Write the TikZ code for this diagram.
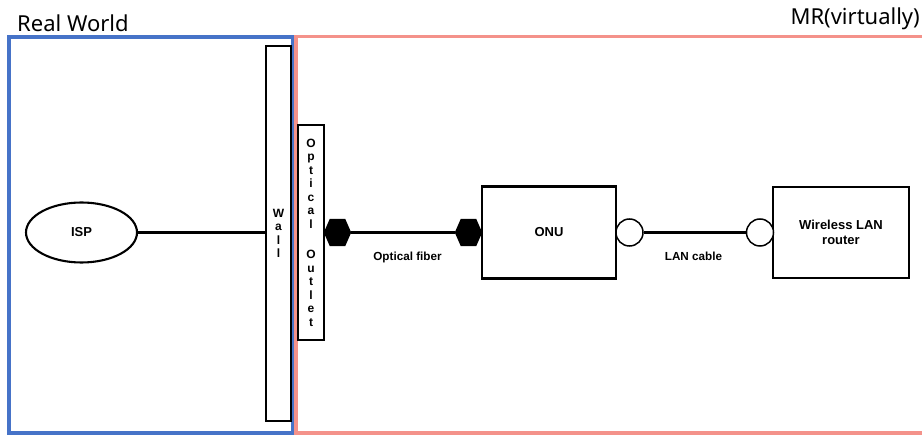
\documentclass[tikz,border=0pt]{standalone}
\usepackage{fontspec}
\setmainfont{Liberation Sans}
\newfontfamily\titlefont{Noto Sans}
\usetikzlibrary{shapes.geometric}
\definecolor{rwblue}{RGB}{70,115,200}
\definecolor{mrpink}{RGB}{244,146,138}
\begin{document}
\begin{tikzpicture}[x=1pt,y=-1pt,
  box/.style={draw, line width=2.1pt, fill=white, inner sep=0pt, align=center,
    font=\bfseries\fontsize{13}{15}\selectfont},
  tall/.style={box, font=\bfseries\fontsize{12}{13.5}\selectfont},
  hexnode/.style={minimum width=27, minimum height=27, inner sep=0pt},
  port/.style={circle, draw, line width=1.5pt, fill=white, minimum size=27, inner sep=0pt},
  conn/.style={line width=2.1pt},
  lbl/.style={inner sep=0pt, font=\bfseries\fontsize{11.7}{13}\selectfont},
  title/.style={inner sep=0pt, font=\titlefont\fontsize{22}{26}\selectfont}]
\useasboundingbox (0,0) rectangle (922,435);
\clip (0,0) rectangle (922,435);
\fill[white] (0,0) rectangle (922,435);
% regions
\draw[rwblue, line width=3.2pt] (9,37) rectangle (293,433);
\draw[mrpink, line width=3.2pt] (296,36.5) rectangle (940,433);
\node[title, anchor=base west] (rw) at (17,31.5) {Real World};
\node[title, anchor=base east] (mr) at (920,25) {MR(virtually)};
% nodes
\node[box, ellipse, minimum width=111, minimum height=60] (isp) at (81.5,232.5) {ISP};
\node[tall, minimum width=25, minimum height=375] (wall) at (278.5,233.5) {W\\a\\l\\l};
\node[tall, minimum width=26, minimum height=215] (outlet) at (311,232.5)
  {O\\p\\t\\i\\c\\a\\l\\[17pt]O\\u\\t\\l\\e\\t};
\node[box, minimum width=134, minimum height=92] (onu) at (549,232.5) {ONU};
\node[box, minimum width=136, minimum height=91] (router) at (841,232.5) {Wireless LAN\\router};
\node[hexnode] (h1) at (337.5,232.5) {};
\node[hexnode] (h2) at (468.5,232.5) {};
% connectors
\draw[conn] (isp.east) -- (isp.east -| wall.west);
\draw[conn] (h1.east) -- (h2.west);
\node[port] (c1) at (629.5,232.5) {};
\node[port] (c2) at (760,232.5) {};
\draw[conn] (c1.east) -- (c2.west);
% hexagon connectors
\foreach \h in {h1,h2}{
  \fill (\h.west) -- ([xshift=6pt]\h.north west) -- ([xshift=-6pt]\h.north east)
    -- (\h.east) -- ([xshift=-6pt]\h.south east) -- ([xshift=6pt]\h.south west) -- cycle;
}
% labels
\node[lbl] (of) at (407.5,257) {Optical fiber};
\node[lbl] (lc) at (693.5,256) {LAN cable};
\end{tikzpicture}
\end{document}
